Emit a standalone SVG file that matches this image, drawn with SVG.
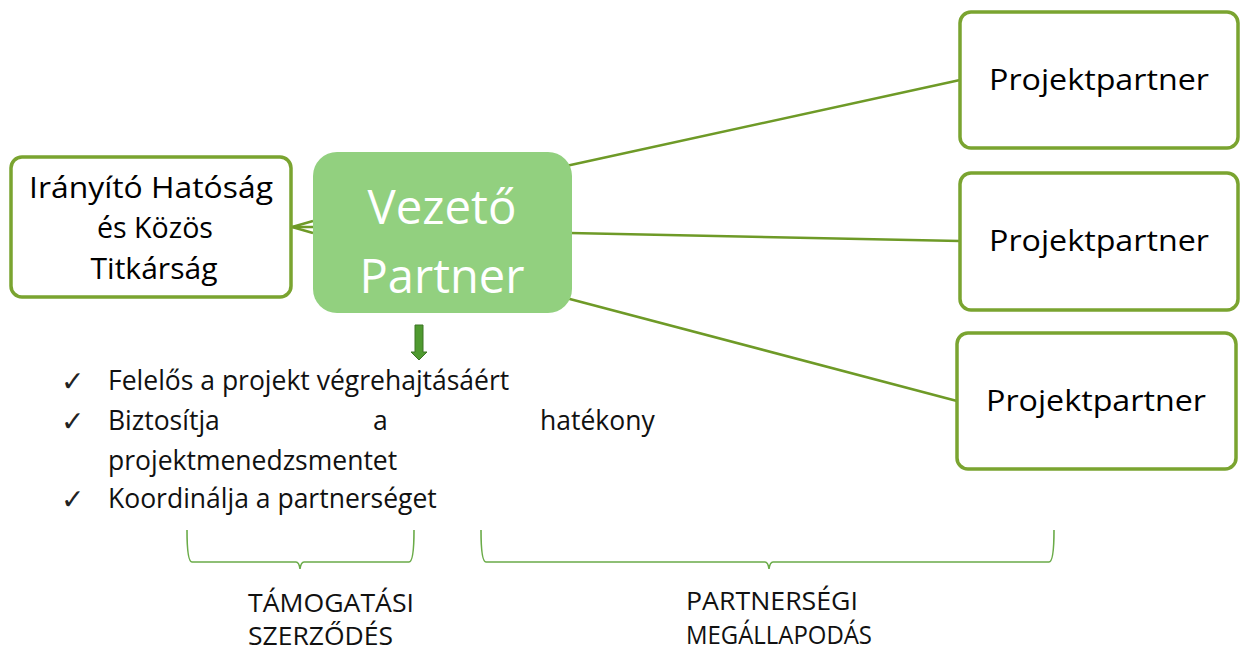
<svg xmlns="http://www.w3.org/2000/svg" width="1240" height="650" viewBox="0 0 1240 650">
<style>
.box{fill:#fff;stroke:#7aa430;stroke-width:3.5}
.lead{fill:#92d07f;stroke:none}
.conn{stroke:#6e9a27;stroke-width:2.5;fill:none}
.brace{stroke:#6aab48;stroke-width:1.6;fill:none}
.bt{font-family:"Open Sans","Noto Sans",sans-serif;font-size:30px;fill:#000;text-anchor:middle}
.lt{font-family:"Open Sans","Noto Sans",sans-serif;font-size:47px;fill:#fff;text-anchor:middle}
.li{font-family:"Open Sans","Noto Sans",sans-serif;font-size:26.5px;fill:#111}
.ck{font-family:"DejaVu Sans",sans-serif;font-size:28px;fill:#222}
.lab{font-family:"Open Sans","Noto Sans",sans-serif;font-size:25px;fill:#111}
</style>
<g id="connectors">
<line class="conn" x1="566" y1="166" x2="960" y2="80"/>
<line class="conn" x1="570" y1="233" x2="960" y2="241"/>
<line class="conn" x1="566" y1="298" x2="957" y2="401"/>
<line class="conn" x1="313" y1="227" x2="292" y2="227"/>
<polyline class="conn" points="313,221 292,227 313,233"/>
</g>
<g id="iranyito">
<rect class="box" x="11" y="157" width="280" height="140" rx="11"/>
<text class="bt" x="151" y="198" textLength="244" lengthAdjust="spacingAndGlyphs">Irányító Hatóság</text>
<text class="bt" x="155" y="238" textLength="116" lengthAdjust="spacingAndGlyphs">és Közös</text>
<text class="bt" x="154" y="279" textLength="127" lengthAdjust="spacingAndGlyphs">Titkárság</text>
</g>
<g id="vezeto">
<rect class="lead" x="313" y="152" width="259" height="161" rx="24"/>
<text class="lt" x="442" y="224" textLength="149" lengthAdjust="spacingAndGlyphs">Vezető</text>
<text class="lt" x="442" y="293" textLength="165" lengthAdjust="spacingAndGlyphs">Partner</text>
</g>
<g id="pp1">
<rect class="box" x="960" y="12" width="278" height="136" rx="11"/>
<text class="bt" x="1099" y="90" textLength="220" lengthAdjust="spacingAndGlyphs">Projektpartner</text>
</g>
<g id="pp2">
<rect class="box" x="960" y="173" width="278" height="137" rx="11"/>
<text class="bt" x="1099" y="251" textLength="220" lengthAdjust="spacingAndGlyphs">Projektpartner</text>
</g>
<g id="pp3">
<rect class="box" x="957" y="333" width="279" height="136" rx="11"/>
<text class="bt" x="1096" y="411" textLength="220" lengthAdjust="spacingAndGlyphs">Projektpartner</text>
</g>
<g id="down-arrow">
<path d="M415,325 L423,325 L423,352 L427,352 L419,360 L411,352 L415,352 Z" fill="#4f9a30" stroke="#3c7424" stroke-width="1"/>
</g>
<g id="list">
<text class="ck" x="61" y="391">✓</text>
<text class="li" x="108" y="390">Felelős a projekt végrehajtásáért</text>
<text class="ck" x="61" y="431">✓</text>
<text class="li" x="108" y="430">Biztosítja</text>
<text class="li" x="373" y="430">a</text>
<text class="li" x="540" y="430">hatékony</text>
<text class="li" x="108" y="470">projektmenedzsmentet</text>
<text class="ck" x="61" y="509">✓</text>
<text class="li" x="108" y="508">Koordinálja a partnerséget</text>
</g>
<g id="brace-left">
<path class="brace" d="M187,530 Q187,562 192,562 L296,562 Q299,562 300,569 Q301,562 304,562 L409,562 Q414,562 414,530"/>
<text class="lab" x="248" y="612" textLength="166" lengthAdjust="spacingAndGlyphs">TÁMOGATÁSI</text>
<text class="lab" x="248" y="645" textLength="145" lengthAdjust="spacingAndGlyphs">SZERZŐDÉS</text>
</g>
<g id="brace-right">
<path class="brace" d="M481,530 Q481,562 486,562 L765,562 Q768,562 769,569 Q770,562 773,562 L1049,562 Q1054,562 1054,530"/>
<text class="lab" x="686" y="610" textLength="172" lengthAdjust="spacingAndGlyphs">PARTNERSÉGI</text>
<text class="lab" x="686" y="644" font-size="22" textLength="186" lengthAdjust="spacingAndGlyphs">MEGÁLLAPODÁS</text>
</g>
</svg>
